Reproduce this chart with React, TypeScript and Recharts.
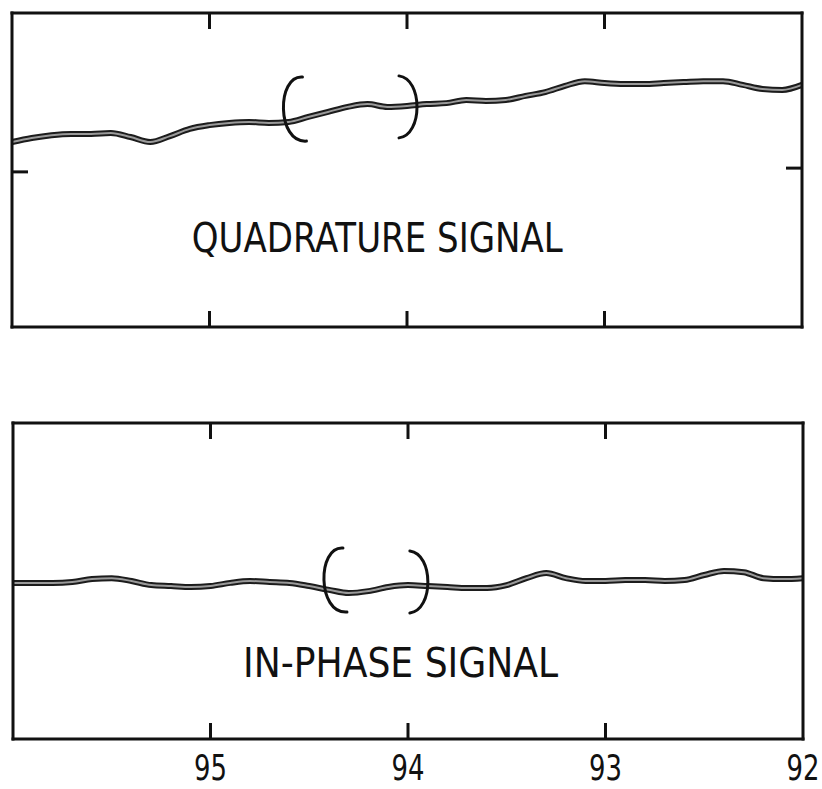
import React from "react";
import { LineChart, Line, XAxis, YAxis, ReferenceDot } from "recharts";

// frequency axis runs 96 -> 92 left to right
const frequency = [
  96.0, 95.9, 95.8, 95.7, 95.6, 95.5, 95.4, 95.3, 95.2, 95.1, 95.0,
  94.9, 94.8, 94.7, 94.6, 94.5, 94.4, 94.3, 94.2, 94.1, 94.0,
  93.9, 93.8, 93.7, 93.6, 93.5, 93.4, 93.3, 93.2, 93.1, 93.0,
  92.9, 92.8, 92.7, 92.6, 92.5, 92.4, 92.3, 92.2, 92.1, 92.0,
];

const quadrature = [
  58.9, 60.2, 61.1, 61.5, 61.5, 61.8, 60.5, 58.9, 60.8, 63.1, 64.3,
  65.0, 65.3, 65.0, 65.3, 66.9, 68.5, 70.1, 71.0, 70.1, 70.4,
  71.0, 71.3, 72.3, 72.0, 72.3, 73.6, 74.8, 76.8, 78.3, 77.7,
  77.4, 77.4, 77.7, 78.0, 78.3, 78.3, 77.1, 75.8, 75.5, 77.1,
];

const inPhase = [
  49.4, 49.4, 49.4, 49.7, 50.6, 50.9, 50.0, 48.7, 48.4, 48.1, 48.4,
  49.4, 50.0, 49.7, 49.4, 48.4, 47.2, 46.2, 46.8, 48.1, 48.7,
  48.4, 48.1, 47.8, 47.8, 48.7, 50.9, 52.5, 50.9, 50.0, 50.0,
  50.3, 50.3, 50.0, 50.3, 51.9, 53.2, 52.8, 50.9, 50.6, 50.9,
];

const frameTicks = [95, 94, 93];
const axisLabels = [95, 94, 93, 92];
const quadLeftTick = [49.4];
const quadRightTick = [50.6];

// bracket marks around the 94 region: [freq, value, kind]
const quadBrackets: [number, number, string][] = [
  [94.58, 69.4, "open"],
  [94.0, 70.1, "close"],
];
const phaseBrackets: [number, number, string][] = [
  [94.38, 50.3, "open"],
  [93.95, 49.7, "close"],
];

const quadTitle = "QUADRATURE SIGNAL";
const phaseTitle = "IN-PHASE SIGNAL";

const quadData = frequency.map((f, i) => ({ f, v: quadrature[i] }));
const phaseData = frequency.map((f, i) => ({ f, v: inPhase[i] }));

const INK = "#111";
const LETTER_FONT = "'Liberation Sans Narrow', 'DejaVu Sans Condensed', sans-serif";
const frame = { stroke: INK, strokeWidth: 3, strokeLinecap: "square" as const };
const tickStroke = { stroke: INK, strokeWidth: 3 };
const blank = () => "";

const bracketShape = (kind: string) => (p: any) => {
  const { cx, cy } = p;
  const d =
    kind === "open"
      ? `M${cx + 10},${cy - 32} C${cx - 16},${cy - 34} ${cx - 16},${cy + 34} ${cx + 14},${cy + 32}`
      : `M${cx - 8},${cy - 31} C${cx + 16},${cy - 28} ${cx + 16},${cy + 28} ${cx - 8},${cy + 31}`;
  return <path d={d} fill="none" stroke={INK} strokeWidth={3} strokeLinecap="round" />;
};

const titleShape = (label: string, len: number) => (p: any) => (
  <text
    x={p.cx}
    y={p.cy}
    fontSize={40}
    fontFamily={LETTER_FONT}
    fill={INK}
    textLength={len}
    lengthAdjust="spacingAndGlyphs"
  >
    {label}
  </text>
);

// narrow lettering for the frequency numbers
const FreqTick = (p: any) => (
  <g transform={`translate(${p.x},${p.y}) scale(0.8,1)`}>
    <text x={0} y={0} dy={26} textAnchor="middle" fontSize={36} fontFamily={LETTER_FONT} fill={INK}>
      {p.payload.value}
    </text>
  </g>
);

function frameAxes(leftTicks: number[] | null, rightTicks: number[] | null) {
  return [
    <XAxis
      key="xt"
      xAxisId="top"
      orientation="top"
      dataKey="f"
      type="number"
      domain={[92, 96]}
      reversed
      ticks={frameTicks}
      tickFormatter={blank}
      tickSize={16}
      tickLine={tickStroke}
      axisLine={frame}
      mirror
      height={1}
    />,
    <XAxis
      key="xb"
      xAxisId="bottom"
      orientation="bottom"
      dataKey="f"
      type="number"
      domain={[92, 96]}
      reversed
      ticks={frameTicks}
      tickFormatter={blank}
      tickSize={16}
      tickLine={tickStroke}
      axisLine={frame}
      mirror
      height={1}
    />,
    <YAxis
      key="yl"
      yAxisId="left"
      orientation="left"
      dataKey="v"
      type="number"
      domain={[0, 100]}
      allowDataOverflow
      ticks={leftTicks ?? [50]}
      tickFormatter={blank}
      tickSize={16}
      tickLine={leftTicks ? tickStroke : false}
      axisLine={frame}
      mirror
      width={1}
    />,
    <YAxis
      key="yr"
      yAxisId="right"
      orientation="right"
      dataKey="v"
      type="number"
      domain={[0, 100]}
      allowDataOverflow
      ticks={rightTicks ?? [50]}
      tickFormatter={blank}
      tickSize={16}
      tickLine={rightTicks ? tickStroke : false}
      axisLine={frame}
      mirror
      width={1}
    />,
  ];
}

export default function App() {
  return (
    <div style={{ position: "absolute", left: 0, top: 0, width: 822, height: 789, background: "#fff" }}>
      <div style={{ position: "absolute", left: 0, top: 0 }}>
        <LineChart width={822} height={340} data={quadData} margin={{ top: 13, right: 20, left: 12, bottom: 13 }}>
          {frameAxes(quadLeftTick, quadRightTick)}
          <Line
            xAxisId="bottom"
            yAxisId="left"
            type="monotone"
            dataKey="v"
            stroke="#1c1c1c"
            strokeWidth={6}
            dot={false}
            isAnimationActive={false}
          />
          <Line
            xAxisId="bottom"
            yAxisId="left"
            type="monotone"
            dataKey="v"
            stroke="#9a9a9a"
            strokeWidth={2}
            dot={false}
            isAnimationActive={false}
          />
          {quadBrackets.map(([f, v, kind]) => (
            <ReferenceDot
              key={kind}
              xAxisId="bottom"
              yAxisId="left"
              x={f}
              y={v}
              r={1}
              shape={bracketShape(kind)}
            />
          ))}
          <ReferenceDot
            xAxisId="bottom"
            yAxisId="left"
            x={95.09}
            y={23.9}
            r={1}
            shape={titleShape(quadTitle, 371)}
          />
        </LineChart>
      </div>
      <div style={{ position: "absolute", left: 0, top: 400 }}>
        <LineChart width={822} height={389} data={phaseData} margin={{ top: 23, right: 19, left: 13, bottom: 4 }}>
          {frameAxes(null, null)}
          <XAxis
            xAxisId="label"
            orientation="bottom"
            dataKey="f"
            type="number"
            domain={[92, 96]}
            reversed
            ticks={axisLabels}
            tickLine={false}
            axisLine={false}
            tickSize={0}
            tickMargin={15}
            height={46}
            interval={0}
            tick={<FreqTick />}
          />
          <Line
            xAxisId="bottom"
            yAxisId="left"
            type="monotone"
            dataKey="v"
            stroke="#1c1c1c"
            strokeWidth={6}
            dot={false}
            isAnimationActive={false}
          />
          <Line
            xAxisId="bottom"
            yAxisId="left"
            type="monotone"
            dataKey="v"
            stroke="#9a9a9a"
            strokeWidth={2}
            dot={false}
            isAnimationActive={false}
          />
          {phaseBrackets.map(([f, v, kind]) => (
            <ReferenceDot
              key={kind}
              xAxisId="bottom"
              yAxisId="left"
              x={f}
              y={v}
              r={1}
              shape={bracketShape(kind)}
            />
          ))}
          <ReferenceDot
            xAxisId="bottom"
            yAxisId="left"
            x={94.835}
            y={19.6}
            r={1}
            shape={titleShape(phaseTitle, 315)}
          />
        </LineChart>
      </div>
    </div>
  );
}
